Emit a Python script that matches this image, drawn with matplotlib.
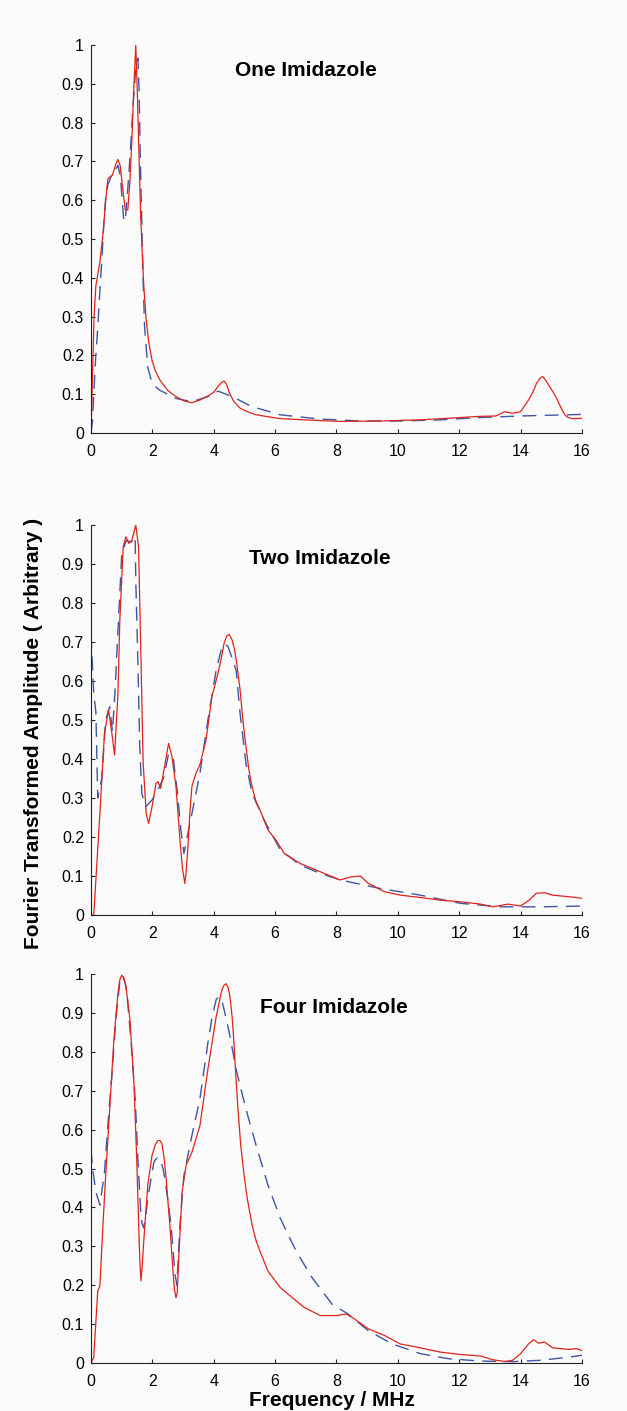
import numpy as np
import matplotlib
matplotlib.use('Agg')
import matplotlib.pyplot as plt

# Panel titles
titles = ['One Imidazole', 'Two Imidazole', 'Four Imidazole']

# Axis ticks
x_ticks = [0, 2, 4, 6, 8, 10, 12, 14, 16]
y_ticks = [0, 0.1, 0.2, 0.3, 0.4, 0.5, 0.6, 0.7, 0.8, 0.9, 1.0]
y_tick_labels = ['0', '0.1', '0.2', '0.3', '0.4', '0.5', '0.6', '0.7', '0.8', '0.9', '1']

###############################################################################
# One imidazole - experiment (red) and simulation (blue dashed)
exp1_x = [0, 0.05, 0.1, 0.16, 0.29, 0.4, 0.48, 0.55, 0.62, 0.7, 0.8, 0.875, 0.95, 1.05,
          1.12, 1.2, 1.27, 1.33, 1.39, 1.46, 1.51, 1.57, 1.62, 1.66, 1.72, 1.79, 1.88,
          1.99, 2.1, 2.25, 2.5, 2.75, 3.03, 3.29, 3.55, 3.8, 4.0, 4.14, 4.25, 4.34, 4.42,
          4.53, 4.65, 4.86, 5.1, 5.38, 6.17, 7.47, 8.12, 9.43, 10.74, 11.39, 12.7, 13.2,
          13.48, 13.74, 14.0, 14.26, 14.4, 14.52, 14.62, 14.72, 14.82, 14.92, 15.05, 15.18,
          15.3, 15.44, 15.55, 15.7, 16.0]
exp1_y = [0, 0.15, 0.30, 0.38, 0.44, 0.52, 0.60, 0.655, 0.66, 0.665, 0.69, 0.705, 0.69, 0.62,
          0.575, 0.575, 0.65, 0.75, 0.88, 1.0, 0.88, 0.70, 0.56, 0.485, 0.38, 0.30, 0.235,
          0.187, 0.16, 0.136, 0.11, 0.095, 0.083, 0.078, 0.085, 0.095, 0.105, 0.12, 0.13,
          0.134, 0.125, 0.10, 0.082, 0.064, 0.055, 0.047, 0.037, 0.032, 0.030, 0.031, 0.034,
          0.037, 0.043, 0.044, 0.055, 0.051, 0.055, 0.085, 0.105, 0.128, 0.14, 0.146, 0.136,
          0.123, 0.107, 0.089, 0.068, 0.047, 0.040, 0.037, 0.038]
sim1_x = [0, 0.05, 0.09, 0.15, 0.22, 0.3, 0.35, 0.44, 0.5, 0.55, 0.65, 0.74, 0.88, 0.95,
          1.0, 1.07, 1.13, 1.2, 1.28, 1.36, 1.45, 1.53, 1.57, 1.61, 1.66, 1.70, 1.75, 1.85,
          1.95, 2.05, 2.25, 2.77, 3.29, 3.81, 4.14, 4.6, 5.25, 6.17, 7.47, 8.78, 10.08,
          11.39, 12.7, 14.0, 16.0]
sim1_y = [0, 0.03, 0.10, 0.19, 0.27, 0.38, 0.44, 0.57, 0.62, 0.64, 0.66, 0.67, 0.69, 0.665,
          0.62, 0.545, 0.56, 0.63, 0.72, 0.83, 0.93, 0.966, 0.88, 0.70, 0.53, 0.39, 0.27, 0.17,
          0.14, 0.123, 0.11, 0.089, 0.081, 0.094, 0.108, 0.094, 0.068, 0.047, 0.036, 0.031,
          0.031, 0.034, 0.040, 0.044, 0.048]

# Two imidazole
exp2_x = [0, 0.09, 0.29, 0.44, 0.57, 0.68, 0.77, 0.88, 0.94, 1.05, 1.14, 1.23, 1.33, 1.46,
          1.55, 1.62, 1.70, 1.80, 1.88, 1.99, 2.12, 2.18, 2.27, 2.38, 2.53, 2.64, 2.77, 2.9,
          2.98, 3.06, 3.1, 3.16, 3.22, 3.29, 3.42, 3.55, 3.75, 3.94, 4.14, 4.25, 4.34, 4.42,
          4.5, 4.6, 4.68, 4.76, 4.86, 4.95, 5.05, 5.15, 5.25, 5.38, 5.51, 5.77, 6.03, 6.3,
          6.82, 7.47, 8.12, 8.5, 8.78, 9.04, 9.56, 10.08, 10.74, 11.39, 12.04, 12.7, 13.09,
          13.6, 14.0, 14.26, 14.52, 14.78, 15.05, 15.57, 16.0]
exp2_y = [0, 0.0, 0.26, 0.466, 0.526, 0.466, 0.41, 0.57, 0.756, 0.944, 0.97, 0.953, 0.96, 1.0,
          0.944, 0.69, 0.39, 0.26, 0.235, 0.278, 0.338, 0.342, 0.325, 0.372, 0.44, 0.406, 0.33,
          0.192, 0.12, 0.081, 0.11, 0.175, 0.26, 0.33, 0.363, 0.385, 0.449, 0.56, 0.62, 0.66,
          0.697, 0.715, 0.72, 0.705, 0.68, 0.64, 0.577, 0.50, 0.432, 0.37, 0.329, 0.29, 0.269,
          0.218, 0.192, 0.158, 0.132, 0.111, 0.09, 0.098, 0.10, 0.081, 0.06, 0.051, 0.045,
          0.038, 0.034, 0.028, 0.021, 0.028, 0.023, 0.037, 0.056, 0.057, 0.051, 0.047, 0.043]
sim2_x = [0, 0.09, 0.16, 0.22, 0.35, 0.48, 0.61, 0.7, 0.78, 0.88, 1.0, 1.14, 1.33, 1.44,
          1.46, 1.53, 1.59, 1.66, 1.79, 1.99, 2.18, 2.38, 2.53, 2.69, 2.82, 2.93, 3.03, 3.16,
          3.29, 3.55, 3.81, 4.08, 4.27, 4.37, 4.47, 4.73, 4.86, 5.05, 5.25, 5.64, 6.17, 6.82,
          7.47, 8.12, 9.43, 10.74, 12.04, 13.35, 14.65, 16.0]
sim2_y = [0.72, 0.57, 0.52, 0.30, 0.35, 0.5, 0.534, 0.47, 0.57, 0.73, 0.92, 0.96, 0.957, 0.97,
          0.86, 0.645, 0.43, 0.31, 0.278, 0.295, 0.32, 0.355, 0.415, 0.397, 0.312, 0.218, 0.158,
          0.21, 0.26, 0.363, 0.5, 0.628, 0.688, 0.695, 0.688, 0.628, 0.517, 0.389, 0.312, 0.244,
          0.167, 0.128, 0.107, 0.09, 0.068, 0.051, 0.03, 0.021, 0.021, 0.023]

# Four imidazole
exp3_x = [0, 0.09, 0.22, 0.29, 0.39, 0.48, 0.61, 0.74, 0.81, 0.88, 0.94, 1.0, 1.07, 1.14,
          1.2, 1.27, 1.4, 1.49, 1.57, 1.6, 1.63, 1.67, 1.72, 1.85, 1.99, 2.1, 2.18, 2.25,
          2.31, 2.38, 2.44, 2.57, 2.68, 2.72, 2.77, 2.81, 2.86, 2.97, 3.1, 3.29, 3.55, 3.81,
          4.08, 4.2, 4.27, 4.34, 4.4, 4.47, 4.53, 4.6, 4.66, 4.72, 4.79, 4.88, 4.99, 5.1,
          5.25, 5.38, 5.51, 5.77, 6.17, 6.56, 6.95, 7.47, 7.99, 8.32, 8.52, 9.04, 9.56, 10.08,
          10.74, 11.39, 12.04, 12.7, 13.09, 13.48, 13.74, 14.0, 14.26, 14.42, 14.59, 14.78,
          15.05, 15.57, 15.83, 16.0]
exp3_y = [0, 0.015, 0.185, 0.198, 0.355, 0.483, 0.653, 0.823, 0.89, 0.95, 0.985, 0.997, 0.99,
          0.968, 0.93, 0.883, 0.72, 0.526, 0.313, 0.25, 0.211, 0.25, 0.313, 0.457, 0.534,
          0.562, 0.572, 0.572, 0.564, 0.53, 0.483, 0.355, 0.228, 0.19, 0.168, 0.18, 0.27, 0.44,
          0.508, 0.542, 0.61, 0.755, 0.89, 0.935, 0.96, 0.972, 0.975, 0.965, 0.942, 0.89,
          0.823, 0.74, 0.653, 0.56, 0.483, 0.42, 0.355, 0.315, 0.287, 0.236, 0.194, 0.168,
          0.143, 0.122, 0.122, 0.126, 0.117, 0.088, 0.071, 0.049, 0.039, 0.028, 0.022, 0.018,
          0.0085, 0.004, 0.007, 0.024, 0.049, 0.06, 0.051, 0.054, 0.039, 0.035, 0.037, 0.032]
sim3_x = [0, 0.05, 0.16, 0.29, 0.44, 0.55, 0.68, 0.81, 0.94, 1.0, 1.05, 1.12, 1.18, 1.31,
          1.44, 1.53, 1.62, 1.66, 1.72, 1.78, 1.85, 2.05, 2.15, 2.25, 2.35, 2.44, 2.61, 2.74,
          2.8, 2.9, 3.03, 3.29, 3.55, 3.81, 3.95, 4.08, 4.18, 4.27, 4.34, 4.45, 4.53, 4.73,
          5.05, 5.38, 5.77, 6.17, 6.69, 7.21, 7.86, 8.38, 9.04, 9.82, 10.74, 11.65, 12.7,
          13.74, 14.65, 15.57, 16.0]
sim3_y = [0.55, 0.5, 0.44, 0.406, 0.49, 0.61, 0.738, 0.883, 0.98, 0.995, 0.993, 0.975, 0.942,
          0.823, 0.679, 0.526, 0.389, 0.36, 0.347, 0.375, 0.423, 0.517, 0.527, 0.525, 0.5,
          0.457, 0.355, 0.228, 0.2, 0.355, 0.483, 0.585, 0.679, 0.823, 0.89, 0.934, 0.942,
          0.93, 0.908, 0.87, 0.84, 0.755, 0.653, 0.56, 0.457, 0.372, 0.287, 0.219, 0.151,
          0.126, 0.083, 0.049, 0.024, 0.011, 0.005, 0.0034, 0.007, 0.015, 0.02]

panels = [(exp1_x, exp1_y, sim1_x, sim1_y),
          (exp2_x, exp2_y, sim2_x, sim2_y),
          (exp3_x, exp3_y, sim3_x, sim3_y)]
title_pos = [(7.0, 0.935), (7.46, 0.915), (7.9, 0.915)]

###############################################################################
bg = '#fbfbfb'
fig = plt.figure(figsize=(6.27, 14.11), dpi=100, facecolor=bg)

# axes positions (left, bottom, width, height) in figure fractions
boxes = [(0.1451, 0.6931, 0.783, 0.275),
         (0.1451, 0.3515, 0.783, 0.2764),
         (0.1451, 0.0340, 0.783, 0.2757)]

tick_font = ['Liberation Sans Narrow', 'Liberation Sans', 'DejaVu Sans']
bold_font = ['Liberation Sans', 'DejaVu Sans']

for box, (ex, ey, sx, sy), title, tpos in zip(boxes, panels, titles, title_pos):
    ax = fig.add_axes(box)
    ax.set_facecolor(bg)
    line, = ax.plot(sx, sy, color='#3d56a6', linewidth=1.0)
    line.set_dashes((10, 6))
    ax.plot(ex, ey, color='#e2231a', linewidth=0.9)
    ax.set_xlim(0, 16)
    ax.set_ylim(0, 1)
    ax.set_xticks(x_ticks)
    ax.set_xticklabels([str(t) for t in x_ticks], family=tick_font, fontsize=11.5)
    ax.set_yticks(y_ticks)
    ax.set_yticklabels(y_tick_labels, family=tick_font, fontsize=11.5)
    ax.tick_params(direction='in', length=3, width=0.8, color='#222222')
    ax.tick_params(axis='x', pad=8)
    ax.tick_params(axis='y', pad=5)
    for side in ['top', 'right']:
        ax.spines[side].set_visible(False)
    for side in ['left', 'bottom']:
        ax.spines[side].set_linewidth(0.8)
        ax.spines[side].set_color('#222222')
    ax.text(tpos[0], tpos[1], title, ha='center', va='center', fontsize=15,
            fontweight='bold', family=bold_font)

fig.text(0.053, 1 - 733 / 1411, 'Fourier Transformed Amplitude ( Arbitrary )',
         rotation=90, ha='center', va='center', fontsize=15, fontweight='bold',
         family=bold_font)
fig.text(332 / 627, 1 - 1400 / 1411, 'Frequency / MHz', ha='center', va='center',
         fontsize=15, fontweight='bold', family=bold_font)

plt.savefig('out.png', dpi=100, facecolor=bg)
plt.close()
